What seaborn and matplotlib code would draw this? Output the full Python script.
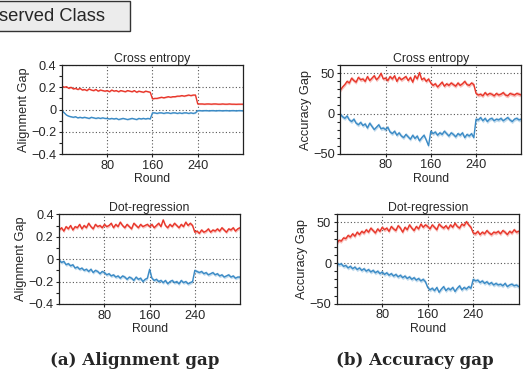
import numpy as np
import pandas as pd
import matplotlib
matplotlib.use("Agg")
import matplotlib.pyplot as plt
from matplotlib.patches import Rectangle
from matplotlib.ticker import MultipleLocator
import seaborn as sns

#---------------------------------------------
# data (one value every 4 rounds)
rounds = list(range(0, 321, 4))

ce_align_red = [0.21, 0.20, 0.205, 0.19, 0.20, 0.185, 0.19, 0.18, 0.19, 0.175,
                0.18, 0.17, 0.185, 0.175, 0.17, 0.18, 0.165, 0.175, 0.17, 0.165,
                0.17, 0.16, 0.175, 0.165, 0.17, 0.16, 0.17, 0.165, 0.16, 0.17,
                0.165, 0.16, 0.17, 0.155, 0.165, 0.16, 0.155, 0.165, 0.16, 0.155,
                0.095, 0.10, 0.10, 0.105, 0.11, 0.105, 0.11, 0.115, 0.11, 0.115,
                0.115, 0.12, 0.12, 0.125, 0.12, 0.125, 0.13, 0.125, 0.13, 0.13,
                0.05, 0.05, 0.05, 0.048, 0.05, 0.05, 0.048, 0.05, 0.05, 0.048,
                0.048, 0.05, 0.048, 0.048, 0.05, 0.048, 0.048, 0.047, 0.048, 0.048, 0.048]
ce_align_blue = [-0.01, -0.03, -0.05, -0.06, -0.065, -0.07, -0.065, -0.075, -0.07, -0.075,
                 -0.07, -0.075, -0.08, -0.07, -0.075, -0.08, -0.075, -0.08, -0.075, -0.08,
                 -0.08, -0.085, -0.08, -0.085, -0.08, -0.09, -0.085, -0.08, -0.085, -0.09,
                 -0.085, -0.08, -0.085, -0.09, -0.08, -0.085, -0.08, -0.085, -0.08, -0.085,
                 -0.03, -0.03, -0.035, -0.03, -0.03, -0.035, -0.03, -0.03, -0.035, -0.03,
                 -0.03, -0.035, -0.03, -0.035, -0.03, -0.03, -0.035, -0.03, -0.035, -0.03,
                 -0.01, -0.01, -0.012, -0.01, -0.01, -0.012, -0.01, -0.01, -0.012, -0.01,
                 -0.01, -0.012, -0.01, -0.01, -0.012, -0.01, -0.01, -0.012, -0.01, -0.01, -0.012]

ce_acc_red = [29, 33, 36, 40, 38, 44, 41, 39, 45, 42,
              43, 40, 46, 41, 44, 47, 42, 45, 50, 43,
              44, 41, 46, 43, 47, 40, 45, 42, 44, 46,
              41, 45, 39, 47, 43, 51, 42, 44, 40, 43,
              38, 35, 37, 33, 36, 39, 34, 37, 35, 38,
              36, 34, 38, 35, 37, 40, 36, 35, 38, 36,
              25, 23, 24, 22, 26, 23, 25, 24, 22, 25,
              23, 24, 26, 23, 22, 25, 24, 23, 25, 24, 23]
ce_acc_blue = [-1, -4, -6, -3, -8, -10, -7, -12, -14, -11,
               -15, -13, -18, -12, -16, -20, -17, -14, -19, -18,
               -20, -17, -23, -25, -22, -27, -24, -28, -30, -26,
               -29, -32, -27, -31, -28, -34, -30, -27, -33, -40,
               -22, -25, -23, -27, -24, -26, -22, -25, -28, -24,
               -26, -29, -25, -27, -24, -30, -26, -28, -25, -30,
               -7, -8, -5, -9, -6, -10, -7, -6, -9, -7,
               -8, -6, -9, -7, -5, -8, -10, -7, -6, -8, -7]

dr_align_red = [0.26, 0.28, 0.25, 0.29, 0.27, 0.30, 0.26, 0.29, 0.28, 0.31,
                0.27, 0.30, 0.28, 0.32, 0.29, 0.27, 0.31, 0.29, 0.30, 0.28,
                0.31, 0.29, 0.30, 0.32, 0.28, 0.31, 0.29, 0.33, 0.30, 0.28,
                0.31, 0.29, 0.27, 0.32, 0.30, 0.28, 0.31, 0.29, 0.30, 0.31,
                0.29, 0.31, 0.28, 0.30, 0.32, 0.29, 0.35, 0.30, 0.28, 0.31,
                0.29, 0.32, 0.30, 0.28, 0.31, 0.29, 0.33, 0.30, 0.32, 0.30,
                0.24, 0.25, 0.23, 0.26, 0.24, 0.25, 0.27, 0.24, 0.26, 0.25,
                0.27, 0.25, 0.28, 0.26, 0.24, 0.27, 0.26, 0.28, 0.25, 0.27, 0.28]
dr_align_blue = [-0.01, -0.03, -0.02, -0.05, -0.04, -0.06, -0.05, -0.08, -0.07, -0.09,
                 -0.08, -0.10, -0.09, -0.11, -0.09, -0.12, -0.10, -0.11, -0.13, -0.11,
                 -0.12, -0.14, -0.13, -0.15, -0.14, -0.16, -0.15, -0.17, -0.15, -0.16,
                 -0.18, -0.16, -0.17, -0.19, -0.16, -0.18, -0.17, -0.20, -0.18, -0.17,
                 -0.09, -0.17, -0.19, -0.18, -0.20, -0.19, -0.21, -0.19, -0.22, -0.20,
                 -0.19, -0.21, -0.20, -0.22, -0.19, -0.21, -0.20, -0.22, -0.21, -0.20,
                 -0.10, -0.11, -0.12, -0.11, -0.13, -0.12, -0.14, -0.13, -0.12, -0.14,
                 -0.13, -0.15, -0.14, -0.16, -0.15, -0.14, -0.16, -0.15, -0.17, -0.16, -0.16]

dr_acc_red = [24, 28, 27, 31, 30, 34, 32, 36, 33, 38,
              35, 39, 37, 41, 38, 43, 40, 37, 42, 39,
              44, 41, 43, 39, 45, 42, 40, 46, 43, 38,
              44, 41, 47, 43, 40, 45, 42, 48, 44, 47,
              45, 42, 47, 44, 41, 48, 45, 43, 46, 42,
              47, 44, 49, 45, 43, 48, 46, 51, 47, 44,
              37, 36, 39, 35, 38, 36, 40, 37, 35, 38,
              37, 39, 36, 40, 38, 35, 39, 37, 41, 38, 39]
dr_acc_blue = [0, -2, -1, -4, -3, -6, -4, -7, -5, -8,
               -6, -9, -7, -10, -8, -11, -9, -12, -10, -13,
               -11, -14, -12, -15, -13, -16, -14, -17, -15, -18,
               -16, -19, -17, -20, -18, -21, -19, -22, -20, -23,
               -30, -33, -31, -34, -30, -36, -32, -29, -34, -31,
               -33, -30, -35, -31, -28, -33, -30, -32, -29, -31,
               -20, -22, -21, -24, -22, -25, -23, -26, -24, -27,
               -25, -27, -26, -28, -25, -29, -27, -26, -28, -27, -29]

x_ticks = [80, 160, 240]
align_ticks = [0.4, 0.2, 0, -0.2, -0.4]
align_labels = ["0.4", "0.2", "0", "\u22120.2", "\u22120.4"]
acc_ticks = [50, 0, -50]
acc_labels = ["50", "0", "\u221250"]

#---------------------------------------------
sns.set_theme(style="ticks")
plt.rcParams["font.family"] = ["Liberation Sans", "DejaVu Sans"]
plt.rcParams["axes.linewidth"] = 0.9

RED = "#e8362a"
BLUE = "#3b8bc6"
FS = 9.2

fig = plt.figure(figsize=(5.28, 3.74), dpi=100)

panels = [
    # rect, title, ylabel, red, blue, band, kind
    ([0.1174, 0.5882, 0.3428, 0.2380], "Cross entropy", "Alignment Gap", ce_align_red, ce_align_blue, 0.006, "align"),
    ([0.6445, 0.5890, 0.3428, 0.2364], "Cross entropy", "Accuracy Gap", ce_acc_red, ce_acc_blue, 2.5, "acc"),
    ([0.1123, 0.1872, 0.3422, 0.2398], "Dot-regression", "Alignment Gap", dr_align_red, dr_align_blue, 0.015, "align"),
    ([0.6377, 0.1880, 0.3447, 0.2390], "Dot-regression", "Accuracy Gap", dr_acc_red, dr_acc_blue, 2.5, "acc"),
]

for rect, title, ylabel, red, blue, band, kind in panels:
    ax = fig.add_axes(rect)
    df = pd.DataFrame({"Round": rounds, "red": red, "blue": blue})
    for col, c in [("red", RED), ("blue", BLUE)]:
        ax.fill_between(df["Round"], df[col] - band, df[col] + band, color=c, alpha=0.3, lw=0)
        sns.lineplot(data=df, x="Round", y=col, ax=ax, color=c, lw=1.0)
    ax.set_xlim(0, 320)
    if kind == "align":
        ax.set_ylim(-0.4, 0.4)
        ax.set_yticks(align_ticks)
        ax.set_yticklabels(align_labels)
        ax.yaxis.set_minor_locator(MultipleLocator(0.1))
    else:
        ax.set_ylim(-50, 60)
        ax.set_yticks(acc_ticks)
        ax.set_yticklabels(acc_labels)
        ax.yaxis.set_minor_locator(MultipleLocator(10))
    ax.set_xticks(x_ticks)
    ax.grid(True, which="major", ls=(0, (1, 2)), color="#555555", lw=0.8)
    ax.tick_params(which="both", direction="out", length=2.5, width=0.8,
                   labelsize=FS, pad=1.5, color="#222222")
    ax.set_title(title, fontsize=8.8, pad=2.5)
    ax.set_xlabel("Round", fontsize=8.8, labelpad=1)
    ax.set_ylabel(ylabel, fontsize=FS, labelpad=1)
    for s in ax.spines.values():
        s.set_color("#222222")

# cropped legend box at the top-left corner
fig.patches.append(Rectangle((-0.01, 0.918), 0.256, 0.079, transform=fig.transFigure,
                             facecolor="#ececec", edgecolor="#333333", lw=1.0))
fig.text(-0.002, 0.945, "served Class", fontsize=13.2, va="baseline", ha="left")

fig.text(0.256, 0.024, "(a) Alignment gap", fontsize=12, fontweight="bold",
         family="DejaVu Serif", ha="center", va="baseline")
fig.text(0.785, 0.024, "(b) Accuracy gap", fontsize=12, fontweight="bold",
         family="DejaVu Serif", ha="center", va="baseline")

fig.savefig("out.png", dpi=100)
